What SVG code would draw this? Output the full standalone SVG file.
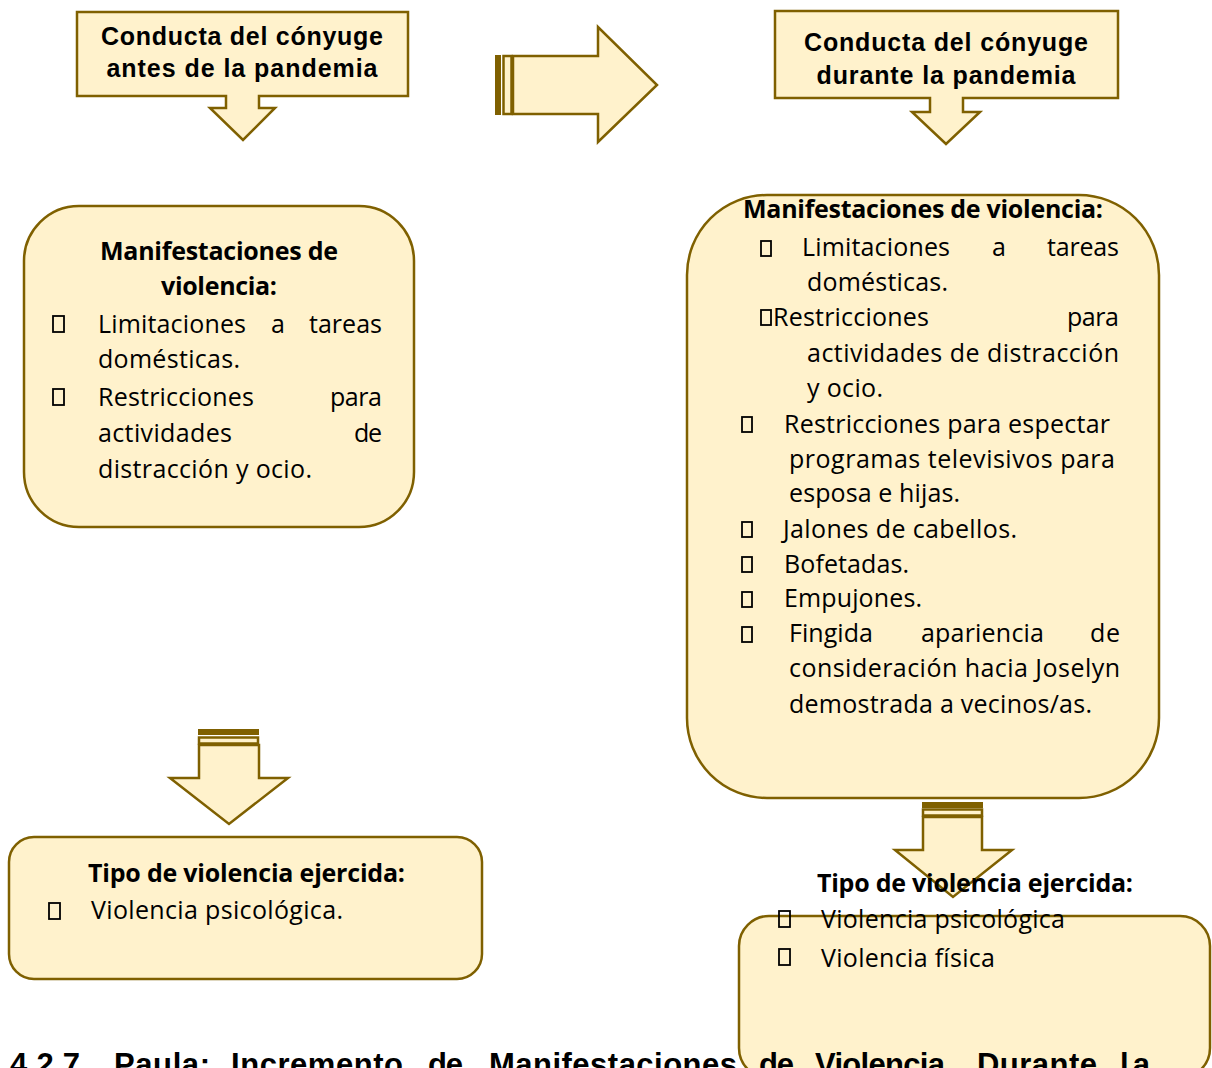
<svg xmlns="http://www.w3.org/2000/svg" width="1212" height="1068" viewBox="0 0 1212 1068">
<style>
.shape{fill:#FFF2CC;stroke:#7F6000;stroke-width:2.5;stroke-linejoin:miter}
.bar{fill:#7F6000;stroke:none}
.hdr{font-family:"Liberation Sans",Arial,sans-serif;font-weight:bold;font-size:25px;fill:#000}
.ttl{font-family:"Open Sans","Noto Sans",sans-serif;font-weight:bold;font-size:25px;fill:#000}
.txt{font-family:"Open Sans","Noto Sans",sans-serif;font-size:25px;fill:#000}
.bul{fill:none;stroke:#000;stroke-width:1.8}
.head{font-family:"Liberation Sans",Arial,sans-serif;font-weight:bold;font-size:31px;fill:#000}
</style>
<rect width="1212" height="1068" fill="#fff"/>

<g id="connectors">
  <g id="arrow-right">
    <rect class="bar" x="495" y="55" width="6" height="60"/>
    <rect class="shape" x="503.5" y="56" width="8" height="58" stroke-width="2"/>
    <polygon class="shape" points="513,56 598,56 598,27 657,85 598,142 598,114 513,114"/>
  </g>
  <g id="arrow-left-down">
    <rect class="bar" x="198" y="729" width="61" height="6"/>
    <rect class="shape" x="199" y="737.5" width="59" height="6" stroke-width="2"/>
    <polygon class="shape" points="199,745 259,745 259,778 288,778 229,824 170,778 199,778"/>
  </g>
  <g id="arrow-right-down">
    <rect class="bar" x="922" y="802" width="61" height="6"/>
    <rect class="shape" x="923" y="809.5" width="59" height="6" stroke-width="2"/>
    <polygon class="shape" points="923,817 982,817 982,850 1012,850 953,897 895,850 923,850"/>
  </g>
</g>

<g id="node-antes">
  <polygon class="shape" points="77,12 408,12 408,96 259,96 259,108 275,108 243,140 210,108 226,108 226,96 77,96"/>
  <text class="hdr" x="242" y="45" text-anchor="middle" textLength="282">Conducta del cónyuge</text>
  <text class="hdr" x="242" y="77" text-anchor="middle" textLength="271">antes de la pandemia</text>
</g>

<g id="node-durante">
  <polygon class="shape" points="775,11 1118,11 1118,98 963,98 963,112 980,112 946,144 912,112 930,112 930,98 775,98"/>
  <text class="hdr" x="946" y="51" text-anchor="middle" textLength="284">Conducta del cónyuge</text>
  <text class="hdr" x="946" y="84" text-anchor="middle" textLength="259">durante la pandemia</text>
</g>

<g id="node-manif-antes">
  <rect class="shape" x="24" y="206" width="390" height="321" rx="55" ry="55"/>
  <text class="ttl" x="219" y="260" text-anchor="middle" textLength="238">Manifestaciones de</text>
  <text class="ttl" x="219" y="295" text-anchor="middle" textLength="116">violencia:</text>
  <rect class="bul" x="53" y="316" width="11" height="16"/>
  <text class="txt" x="98" y="333" textLength="148">Limitaciones</text>
  <text class="txt" x="271" y="333">a</text>
  <text class="txt" x="382" y="333" text-anchor="end" textLength="73">tareas</text>
  <text class="txt" x="98" y="368" textLength="142">domésticas.</text>
  <rect class="bul" x="53" y="389" width="11" height="16"/>
  <text class="txt" x="98" y="406" textLength="156">Restricciones</text>
  <text class="txt" x="382" y="406" text-anchor="end" textLength="52">para</text>
  <text class="txt" x="98" y="442" textLength="134">actividades</text>
  <text class="txt" x="382" y="442" text-anchor="end" textLength="28">de</text>
  <text class="txt" x="98" y="478" textLength="214">distracción y ocio.</text>
</g>

<g id="node-manif-durante">
  <rect class="shape" x="687" y="195" width="472" height="603" rx="80" ry="80"/>
  <text class="ttl" x="743" y="218" textLength="360">Manifestaciones de violencia:</text>
  <rect class="bul" x="761" y="241" width="10" height="15"/>
  <text class="txt" x="802" y="256" textLength="148">Limitaciones</text>
  <text class="txt" x="992" y="256">a</text>
  <text class="txt" x="1119" y="256" text-anchor="end" textLength="72">tareas</text>
  <text class="txt" x="807" y="291" textLength="141">domésticas.</text>
  <rect class="bul" x="761" y="310" width="10" height="15"/>
  <text class="txt" x="773" y="326" textLength="156">Restricciones</text>
  <text class="txt" x="1119" y="326" text-anchor="end" textLength="52">para</text>
  <text class="txt" x="807" y="362" textLength="312">actividades de distracción</text>
  <text class="txt" x="807" y="397" textLength="76">y ocio.</text>
  <rect class="bul" x="742" y="417" width="10" height="15"/>
  <text class="txt" x="784" y="433" textLength="326">Restricciones para espectar</text>
  <text class="txt" x="789" y="468" textLength="326">programas televisivos para</text>
  <text class="txt" x="789" y="502" textLength="171">esposa e hijas.</text>
  <rect class="bul" x="742" y="522" width="10" height="15"/>
  <text class="txt" x="783" y="538" textLength="234">Jalones de cabellos.</text>
  <rect class="bul" x="742" y="557" width="10" height="15"/>
  <text class="txt" x="784" y="573" textLength="125">Bofetadas.</text>
  <rect class="bul" x="742" y="592" width="10" height="15"/>
  <text class="txt" x="784" y="607" textLength="138">Empujones.</text>
  <rect class="bul" x="742" y="627" width="10" height="15"/>
  <text class="txt" x="789" y="642" textLength="84">Fingida</text>
  <text class="txt" x="921" y="642" textLength="123">apariencia</text>
  <text class="txt" x="1120" y="642" text-anchor="end" textLength="30">de</text>
  <text class="txt" x="789" y="677" textLength="331">consideración hacia Joselyn</text>
  <text class="txt" x="789" y="713" textLength="303">demostrada a vecinos/as.</text>
</g>

<g id="node-tipo-antes">
  <rect class="shape" x="9" y="837" width="473" height="142" rx="25" ry="25"/>
  <text class="ttl" x="88" y="882" textLength="317">Tipo de violencia ejercida:</text>
  <rect class="bul" x="49" y="903" width="11" height="16"/>
  <text class="txt" x="91" y="919" textLength="252">Violencia psicológica.</text>
</g>

<g id="node-tipo-durante">
  <rect class="shape" x="739" y="916" width="471" height="162" rx="30" ry="30"/>
  <text class="ttl" x="817" y="892" textLength="316">Tipo de violencia ejercida:</text>
  <rect class="bul" x="779" y="911" width="11" height="16"/>
  <text class="txt" x="821" y="928" textLength="244">Violencia psicológica</text>
  <rect class="bul" x="779" y="949" width="11" height="16"/>
  <text class="txt" x="821" y="967" textLength="174">Violencia física</text>
</g>

<g id="heading">
  <text class="head" x="10" y="1075" textLength="70">4.2.7</text>
  <text class="head" x="114" y="1075" textLength="96">Paula:</text>
  <text class="head" x="231" y="1075" textLength="172">Incremento</text>
  <text class="head" x="428" y="1075" textLength="35">de</text>
  <text class="head" x="489" y="1075" textLength="248">Manifestaciones</text>
  <text class="head" x="759" y="1075" textLength="35">de</text>
  <text class="head" x="815" y="1075" textLength="130">Violencia</text>
  <text class="head" x="977" y="1075" textLength="120">Durante</text>
  <text class="head" x="1120" y="1075" textLength="30">la</text>
</g>
</svg>
